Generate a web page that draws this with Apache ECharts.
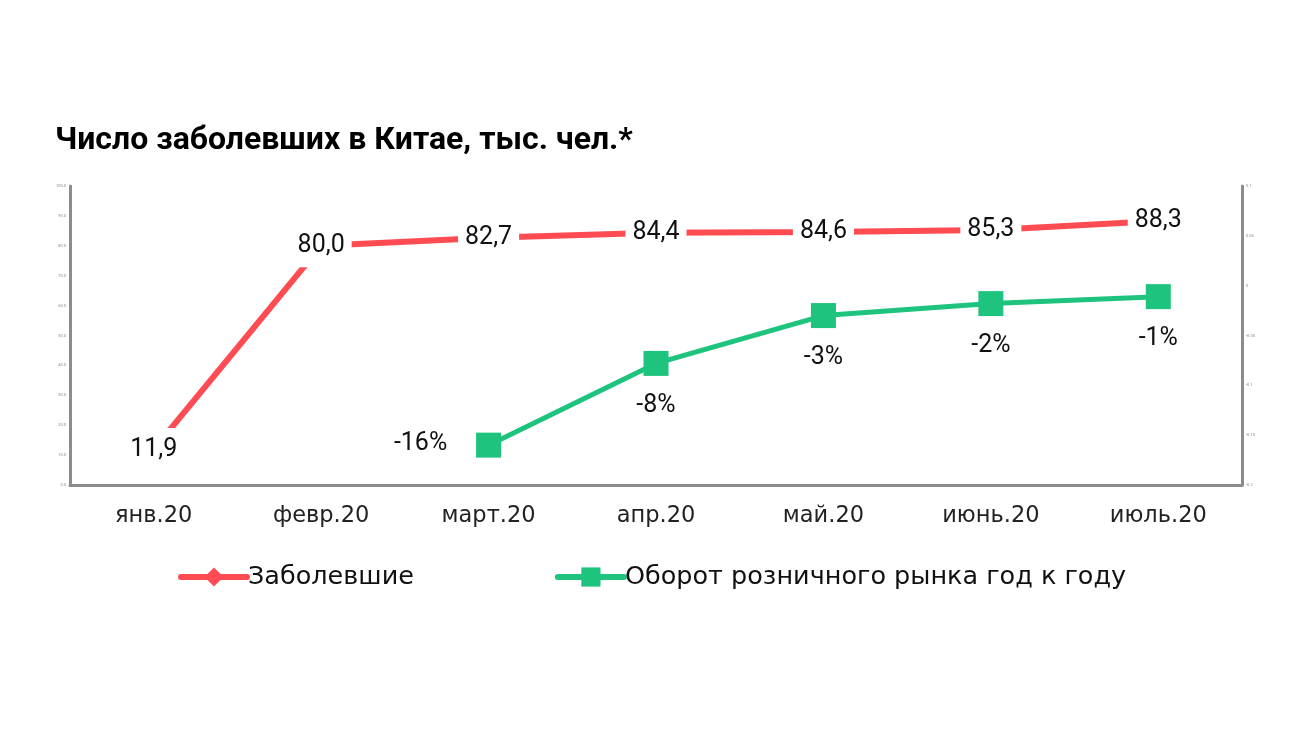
<!DOCTYPE html>
<html>
<head>
<meta charset="utf-8">
<script src="https://cdn.jsdelivr.net/npm/echarts@6/dist/echarts.min.js"></script>
<style>
  html, body { margin: 0; padding: 0; background: #fff; }
  #chart { width: 1300px; height: 731px; }
</style>
</head>
<body>
<div id="chart"></div>
<script>
// данные
var months = ['янв.20', 'февр.20', 'март.20', 'апр.20', 'май.20', 'июнь.20', 'июль.20'];
var cases = [11.9, 80.0, 82.7, 84.4, 84.6, 85.3, 88.3];
var retail = [null, null, -0.16, -0.078, -0.03, -0.018, -0.011];
var seriesNames = ['Заболевшие', 'Оборот розничного рынка год к году'];

var red = '#FF4B52';
var green = '#1EC47D';
var axisGray = '#8c8c8c';

var myChart = echarts.init(document.getElementById('chart'));

var option = {
    textStyle: { fontFamily: 'Roboto' },
    title: {
        text: 'Число заболевших в Китае, тыс. чел.*',
        left: 50,
        top: 120,
        textStyle: { fontSize: 32, fontWeight: 'bold', color: '#000', fontFamily: 'Roboto' }
    },
    legend: {
        left: 173,
        top: 559,
        itemWidth: 66,
        itemHeight: 24,
        itemGap: 141,
        lineStyle: { width: 6, cap: 'round' },
        textStyle: { fontSize: 25.5, color: '#111', fontFamily: 'DejaVu Sans', padding: [0, 0, 0, -4] },
        data: seriesNames
    },
    grid: { left: 70, right: 58, top: 186, bottom: 246 },
    xAxis: {
        type: 'category',
        data: months,
        boundaryGap: true,
        axisLine: { lineStyle: { color: axisGray, width: 3 } },
        axisTick: { show: false },
        axisLabel: { fontSize: 22.5, color: '#222', margin: 20, fontFamily: 'DejaVu Sans' }
    },
    yAxis: [
        {
            type: 'value',
            min: 0, max: 100, interval: 10,
            axisLine: { show: true, lineStyle: { color: axisGray, width: 3 } },
            axisTick: { show: false },
            splitLine: { show: false },
            axisLabel: {
                fontSize: 4, color: '#888', margin: 4,
                formatter: function (v) { return v.toFixed(1); }
            }
        },
        {
            type: 'value',
            min: -0.2, max: 0.1, interval: 0.05,
            axisLine: { show: true, lineStyle: { color: axisGray, width: 3 } },
            axisTick: { show: false },
            splitLine: { show: false },
            axisLabel: {
                fontSize: 4, color: '#888', margin: 4,
                formatter: function (v) { return String(parseFloat(v.toFixed(2))); }
            }
        }
    ],
    series: [
        {
            name: seriesNames[0],
            type: 'line',
            yAxisIndex: 0,
            data: cases,
            symbol: 'diamond',
            symbolSize: 2,
            lineStyle: { color: red, width: 6 },
            itemStyle: { color: red },
            label: {
                show: true,
                position: 'inside',
                fontSize: 25,
                color: '#111',
                backgroundColor: '#fff',
                padding: [9, 7],
                formatter: function (p) { return p.value.toFixed(1).replace('.', ','); }
            },
            animation: false
        },
        {
            name: seriesNames[1],
            type: 'line',
            yAxisIndex: 1,
            data: retail,
            symbol: 'rect',
            symbolSize: 25,
            lineStyle: { color: green, width: 5 },
            itemStyle: { color: green },
            label: {
                show: true,
                position: 'bottom',
                distance: 17,
                fontSize: 25,
                color: '#111',
                formatter: function (p) { return Math.round(p.value * 100) + '%'; }
            },
            labelLayout: function (params) {
                if (params.dataIndex === 2) {
                    return { dx: -68, dy: -43 };
                }
            },
            animation: false
        }
    ]
};

myChart.setOption(option);
</script>
</body>
</html>
